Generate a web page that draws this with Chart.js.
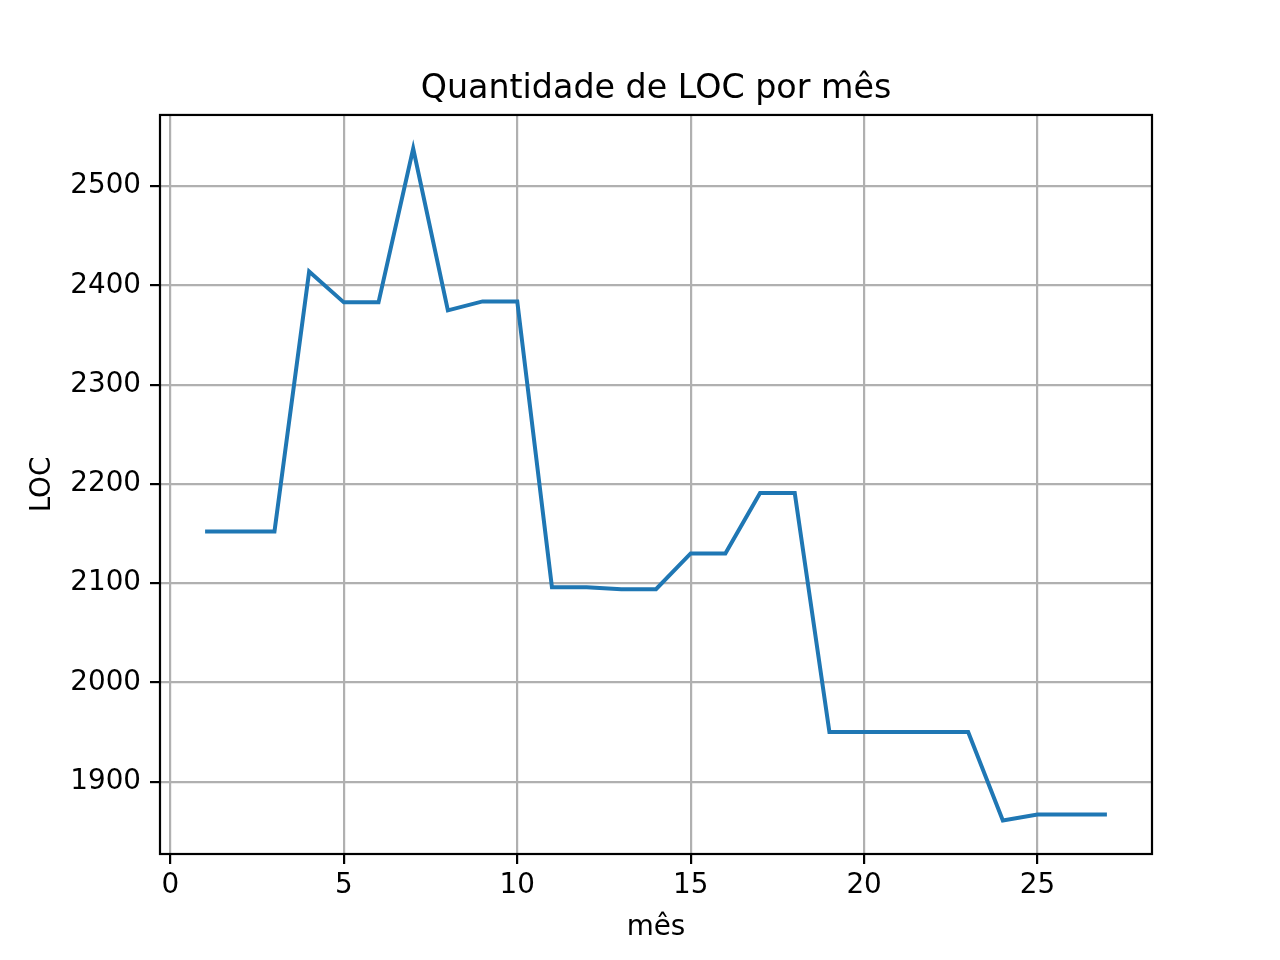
<!DOCTYPE html>
<html>
<head>
<meta charset="utf-8">
<script src="https://cdn.jsdelivr.net/npm/chart.js@4.4.1/dist/chart.umd.min.js"></script>
<style>
  html, body { margin: 0; padding: 0; background: #fff; }
  #wrap { width: 1280px; height: 960px; }
</style>
</head>
<body>
<div id="wrap"><canvas id="locChart" width="1280" height="960"></canvas></div>
<script>
// data
const months = [1, 2, 3, 4, 5, 6, 7, 8, 9, 10, 11, 12, 13, 14, 15, 16, 17, 18, 19, 20, 21, 22, 23, 24, 25, 26, 27];
const locValues = [2152, 2152, 2152, 2414, 2383, 2383, 2538, 2375, 2384, 2384, 2096, 2096, 2094, 2094, 2130, 2130, 2191, 2191, 1950, 1950, 1950, 1950, 1950, 1861, 1867, 1867, 1867];
const xTicks = [0, 5, 10, 15, 20, 25];
const yTicks = [1900, 2000, 2100, 2200, 2300, 2400, 2500];

// matplotlib style 5% margins around the data
const xPad = (Math.max(...months) - Math.min(...months)) * 0.05;
const yPad = (Math.max(...locValues) - Math.min(...locValues)) * 0.05;

const FONT = "'DejaVu Sans', sans-serif";

// draws the full black box around the plot area
const frame = {
  id: 'frame',
  afterDatasetsDraw(chart) {
    const { ctx, chartArea: a } = chart;
    ctx.save();
    ctx.strokeStyle = '#000';
    ctx.lineWidth = 2.2;
    ctx.strokeRect(a.left, a.top, a.right - a.left, a.bottom - a.top);
    ctx.restore();
  }
};

const gridStyle = { color: '#b0b0b0', lineWidth: 2.2, drawTicks: true, tickLength: 10, tickColor: '#000', tickWidth: 2.2 };

const ctx = document.getElementById('locChart').getContext('2d');
new Chart(ctx, {
  type: 'line',
  data: {
    datasets: [{
      data: months.map((m, i) => ({ x: m, y: locValues[i] })),
      borderColor: '#1f77b4',
      borderWidth: 4,
      pointRadius: 0,
      tension: 0,
      fill: false
    }]
  },
  options: {
    responsive: false,
    animation: false,
    layout: { padding: { left: 32, right: 0, top: 0, bottom: 0 } },
    plugins: {
      legend: { display: false },
      tooltip: { enabled: false },
      title: {
        display: true,
        text: 'Quantidade de LOC por mês',
        color: '#000',
        font: { family: FONT, size: 33.3, weight: 'normal', lineHeight: 1.2 },
        padding: { top: 69.5, bottom: 5.5 }
      }
    },
    scales: {
      x: {
        type: 'linear',
        min: Math.min(...months) - xPad,
        max: Math.max(...months) + xPad,
        afterBuildTicks: s => { s.ticks = xTicks.map(v => ({ value: v })); },
        afterFit: s => { s.height = 106; },
        grid: gridStyle,
        border: { display: false },
        ticks: { color: '#000', padding: 5, maxRotation: 0, font: { family: FONT, size: 27.8 }, callback: v => String(v) },
        title: { display: true, text: 'mês', color: '#000', padding: { top: 0, bottom: 16 }, font: { family: FONT, size: 27.8 } }
      },
      y: {
        type: 'linear',
        min: Math.min(...locValues) - yPad,
        max: Math.max(...locValues) + yPad,
        afterBuildTicks: s => { s.ticks = yTicks.map(v => ({ value: v })); },
        afterFit: s => { s.width = 128; },
        grid: gridStyle,
        border: { display: false },
        ticks: { color: '#000', padding: 9, font: { family: FONT, size: 27.8 }, callback: v => String(v) },
        title: { display: true, text: 'LOC', color: '#000', padding: { top: 0, bottom: 0 }, font: { family: FONT, size: 27.8, lineHeight: 0.8 } }
      },
      // empty right-hand axis, only reserves the right margin
      yRight: {
        type: 'linear',
        position: 'right',
        afterFit: s => { s.width = 128; },
        grid: { display: false },
        border: { display: false },
        ticks: { display: false }
      }
    }
  },
  plugins: [frame]
});
</script>
</body>
</html>
